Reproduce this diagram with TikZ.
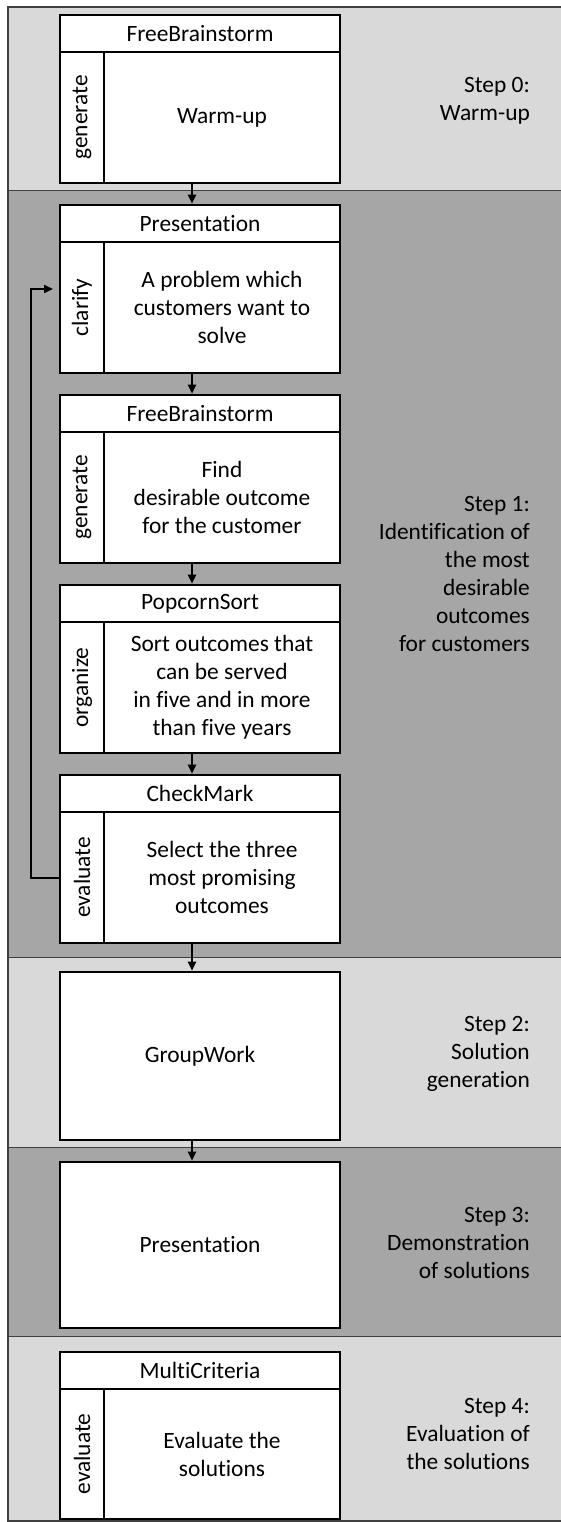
\documentclass[tikz,border=0pt]{standalone}
\usepackage{fontspec}
\setmainfont[Ligatures=NoCommon]{Carlito}
\usepackage{graphicx}
\usetikzlibrary{arrows.meta}
\definecolor{bandlight}{HTML}{D9D9D9}
\definecolor{banddark}{HTML}{A6A6A6}
\definecolor{bandline}{HTML}{404040}
\newcommand\diafont{\fontsize{23.4bp}{28bp}\selectfont}
\begin{document}
\begin{tikzpicture}[x=1bp,y=-1bp,
  boxbase/.style={draw, fill=white, line width=2.6bp, inner sep=0pt, font=\diafont, align=center},
  titlebox/.style={boxbase, minimum width=280bp, minimum height=37bp},
  sidebox/.style={boxbase, minimum width=44bp, minimum height=131bp},
  bodybox/.style={boxbase, minimum width=236bp, minimum height=131bp},
  plainbox/.style={boxbase, minimum width=280bp},
  steplabel/.style={anchor=east, align=right, font=\diafont, inner sep=0pt},
  band/.style={draw=bandline, line width=1.3bp},
  arr/.style={line width=2bp, -{Triangle[length=9bp,width=8bp]}}]
\useasboundingbox (0,0) rectangle (561,1522);
\fill[white] (0,0) rectangle (561,1522);
% bands
\begin{scope}
\clip (0,0) rectangle (561,1522);
\draw[band, fill=bandlight] (8,7) rectangle (580,190.7);
\draw[band, fill=banddark] (8,190.7) rectangle (580,957.7);
\draw[band, fill=bandlight] (8,957.7) rectangle (580,1147.3);
\draw[band, fill=banddark] (8,1147.3) rectangle (580,1336.7);
\draw[band, fill=bandlight] (8,1336.7) rectangle (580,1521);
\end{scope}
% step labels
\node[steplabel] (l0) at (530,101) {Step 0:\\Warm-up};
\node[steplabel] (l1) at (530,574) {Step 1:\\Identification of\\the most\\desirable\\outcomes\\for customers};
\node[steplabel] (l2) at (530,1054) {Step 2:\\Solution\\generation};
\node[steplabel] (l3) at (530,1243) {Step 3:\\Demonstration\\of solutions};
\node[steplabel] (l4) at (530,1434) {Step 4:\\Evaluation of\\the solutions};
% box 0
\node[titlebox] (t0) at (200,33.5) {FreeBrainstorm};
\node[sidebox] (s0) at (82,117.5) {\rotatebox{90}{generate}};
\node[bodybox] (b0) at (222,117.5) {Warm-up};
% box 1
\node[titlebox] (t1) at (200,223.5) {Presentation};
\node[sidebox] (s1) at (82,307.5) {\rotatebox{90}{clarify}};
\node[bodybox] (b1) at (222,307.5) {A problem which\\customers want to\\solve};
% box 2
\node[titlebox] (t2) at (200,413.5) {FreeBrainstorm};
\node[sidebox] (s2) at (82,497.5) {\rotatebox{90}{generate}};
\node[bodybox] (b2) at (222,497.5) {Find\\desirable outcome\\for the customer};
% box 3
\node[titlebox] (t3) at (200,603.5) {PopcornSort};
\node[sidebox] (s3) at (82,687.5) {\rotatebox{90}{organize}};
\node[bodybox] (b3) at (222,687.5) {Sort outcomes that\\can be served\\in five and in more\\than five years};
% box 4
\node[titlebox] (t4) at (200,793.5) {CheckMark};
\node[sidebox] (s4) at (82,877.5) {\rotatebox{90}{evaluate}};
\node[bodybox] (b4) at (222,877.5) {Select the three\\most promising\\outcomes};
% box 5, 6
\node[plainbox, minimum height=168bp] (g5) at (200,1056) {GroupWork};
\node[plainbox, minimum height=166bp] (g6) at (200,1245) {Presentation};
% box 7
\node[titlebox] (t7) at (200,1370.5) {MultiCriteria};
\node[sidebox, minimum height=130bp] (s7) at (82,1454) {\rotatebox{90}{evaluate}};
\node[bodybox, minimum height=130bp] (b7) at (222,1454) {Evaluate the\\solutions};
% connectors
\coordinate (ax) at (192,0);
\coordinate (fbx) at (31,0);
\coordinate (fbin) at (53,289);
\draw[arr] (b0.south -| ax) -- (t1.north -| ax);
\draw[arr] (b1.south -| ax) -- (t2.north -| ax);
\draw[arr] (b2.south -| ax) -- (t3.north -| ax);
\draw[arr] (b3.south -| ax) -- (t4.north -| ax);
\draw[arr] (b4.south -| ax) -- (g5.north -| ax);
\draw[arr] (g5.south -| ax) -- (g6.north -| ax);
\draw[arr] (s4.west) -- (s4.west -| fbx) |- (fbin);
\end{tikzpicture}
\end{document}
